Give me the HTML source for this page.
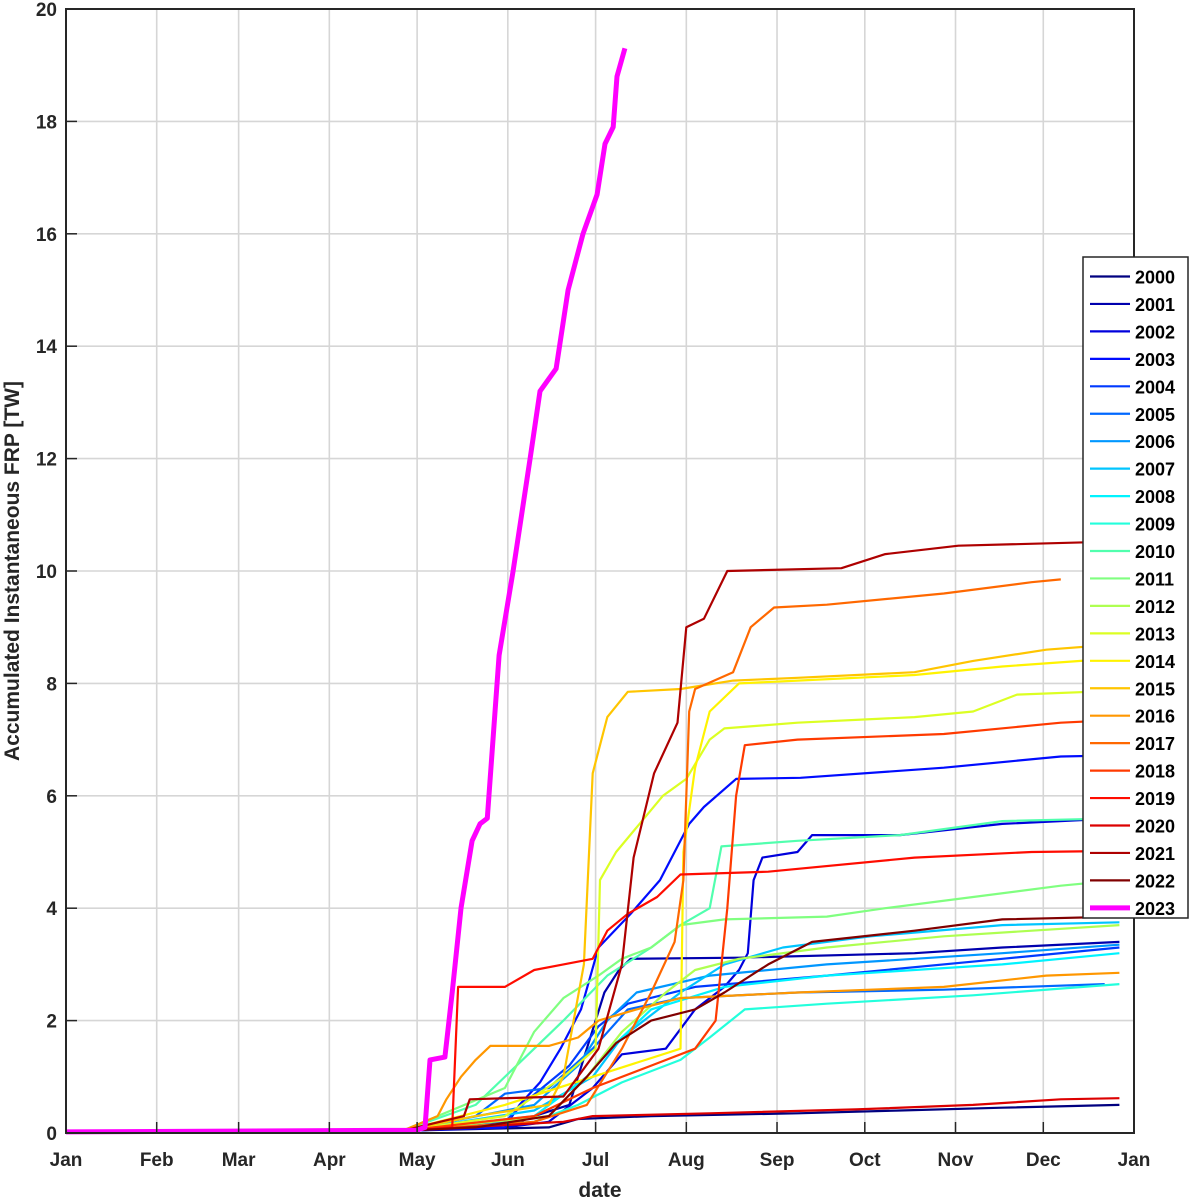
<!DOCTYPE html>
<html><head><meta charset="utf-8">
<style>
html,body{margin:0;padding:0;background:#fff;}
svg{display:block;font-family:"Liberation Sans",Arial,sans-serif;}
</style></head>
<body>
<svg id="chart" width="1192" height="1200" viewBox="0 0 1192 1200" xmlns="http://www.w3.org/2000/svg">
<rect x="0" y="0" width="1192" height="1200" fill="#fff"/>
<g id="grid"></g>
<g id="series"></g>
<g id="axes"></g>
<text x="0" y="0" transform="translate(19,571) rotate(-90)" text-anchor="middle" font-size="21" font-weight="bold" fill="#262626">Accumulated Instantaneous FRP [TW]</text>
<text x="600" y="1197" text-anchor="middle" font-size="21" font-weight="bold" fill="#262626">date</text>
<g id="legend"></g>
</svg>
<script>
const monthLabels = ["Jan","Feb","Mar","Apr","May","Jun","Jul","Aug","Sep","Oct","Nov","Dec","Jan"];
const monthDays = [0,31,59,90,120,151,181,212,243,273,304,334,365];
const yTicks = [0,2,4,6,8,10,12,14,16,18,20];
const years = [2000,2001,2002,2003,2004,2005,2006,2007,2008,2009,2010,2011,2012,2013,2014,2015,2016,2017,2018,2019,2020,2021,2022,2023];

const d2000 = [0,115,165,175,200,250,285,320,360];
const v2000 = [0.02,0.04,0.1,0.25,0.3,0.35,0.4,0.45,0.5];
const d2001 = [0,115,150,160,172,178,184,189,193,230,290,320,360];
const v2001 = [0.02,0.04,0.1,0.3,0.5,1.5,2.5,2.9,3.1,3.12,3.2,3.3,3.4];
const d2002 = [0,115,150,165,180,190,205,215,225,230,233,235,238,250,255,285,320,360];
const v2002 = [0.02,0.04,0.1,0.2,0.8,1.4,1.5,2.2,2.6,2.9,3.2,4.5,4.9,5.0,5.3,5.3,5.5,5.6];
const d2003 = [0,115,150,155,162,169,176,182,193,203,213,218,229,251,300,340,360];
const v2003 = [0.02,0.04,0.1,0.5,0.9,1.5,2.2,3.3,3.9,4.5,5.5,5.8,6.3,6.32,6.5,6.7,6.72];
const d2004 = [0,115,150,158,172,182,192,215,260,320,360];
const v2004 = [0.02,0.04,0.2,0.6,1.2,1.9,2.3,2.6,2.8,3.1,3.3];
const d2005 = [0,115,140,150,165,180,192,210,250,300,355];
const v2005 = [0.02,0.04,0.3,0.7,0.8,1.5,2.2,2.4,2.5,2.55,2.65];
const d2006 = [0,115,160,175,185,195,220,260,320,360];
const v2006 = [0.02,0.04,0.5,1.2,2.0,2.5,2.8,3.0,3.2,3.35];
const d2007 = [0,115,160,180,190,210,225,245,275,320,360];
const v2007 = [0.02,0.04,0.4,1.0,1.7,2.5,3.0,3.3,3.5,3.7,3.75];
const d2008 = [0,115,160,178,188,200,225,260,320,360];
const v2008 = [0.02,0.04,0.3,1.0,1.6,2.2,2.6,2.8,3.0,3.2];
const d2009 = [0,115,160,175,190,210,220,232,260,310,360];
const v2009 = [0.02,0.04,0.2,0.5,0.9,1.3,1.7,2.2,2.3,2.45,2.65];
const d2010 = [0,115,140,160,170,185,200,210,220,224,250,285,320,360];
const v2010 = [0.02,0.04,0.5,1.5,2.0,2.8,3.3,3.7,4.0,5.1,5.2,5.3,5.55,5.6];
const d2011 = [0,115,150,160,170,182,190,200,210,225,260,280,310,340,360];
const v2011 = [0.02,0.04,0.8,1.8,2.4,2.8,3.1,3.3,3.7,3.8,3.85,4.0,4.2,4.4,4.5];
const d2012 = [0,115,165,178,190,205,215,230,260,300,360];
const v2012 = [0.02,0.04,0.3,1.0,1.8,2.5,2.9,3.1,3.3,3.5,3.7];
const d2013 = [0,115,150,170,181,182.5,188,196,204,212,220,225,250,290,310,325,360];
const v2013 = [0.02,0.04,0.3,1.0,1.5,4.5,5.0,5.5,6.0,6.3,7.0,7.2,7.3,7.4,7.5,7.8,7.87];
const d2014 = [0,115,150,180,210,211,215,220,230,250,290,320,360];
const v2014 = [0.02,0.04,0.5,1.0,1.5,5.0,6.5,7.5,8.0,8.05,8.15,8.3,8.45];
const d2015 = [0,115,140,165,170,177,180,185,192,210,228,250,290,310,335,360];
const v2015 = [0.02,0.04,0.3,0.5,1.0,3.0,6.4,7.4,7.85,7.9,8.05,8.1,8.2,8.4,8.6,8.7];
const d2016 = [0,115,127,130,135,140,145,165,175,182,195,210,250,300,335,360];
const v2016 = [0.02,0.04,0.3,0.6,1.0,1.3,1.55,1.55,1.7,2.0,2.2,2.4,2.5,2.6,2.8,2.85];
const d2017 = [0,115,160,178,190,200,208,211,213,215,228,234,242,260,300,330,340];
const v2017 = [0.02,0.04,0.2,0.5,1.5,2.5,3.4,4.5,7.5,7.9,8.2,9.0,9.35,9.4,9.6,9.8,9.85];
const d2018 = [0,115,160,180,200,215,222,226,229,232,250,300,340,360];
const v2018 = [0.02,0.04,0.3,0.8,1.2,1.5,2.0,4.0,6.0,6.9,7.0,7.1,7.3,7.35];
const d2019 = [0,115,132,134,150,160,170,180,185,192,202,210,240,290,330,360];
const v2019 = [0.02,0.04,0.1,2.6,2.6,2.9,3.0,3.1,3.6,3.9,4.2,4.6,4.65,4.9,5.0,5.02];
const d2020 = [0,115,170,180,220,270,310,340,360];
const v2020 = [0.02,0.04,0.2,0.3,0.35,0.42,0.5,0.6,0.62];
const d2021 = [0,115,136,138,170,182,190,194,201,209,212,218,226,265,280,305,355];
const v2021 = [0.02,0.04,0.3,0.6,0.65,1.5,3.0,4.9,6.4,7.3,9.0,9.15,10.0,10.05,10.3,10.45,10.52];
const d2022 = [0,115,140,165,178,188,200,215,225,240,255,290,320,360];
const v2022 = [0.02,0.04,0.1,0.3,1.0,1.6,2.0,2.2,2.5,3.0,3.4,3.6,3.8,3.85];
const d2023 = [0,120,122.7,124.4,129.5,132,135,138.8,141.5,144,148,152.8,158.6,162,167.5,171.6,176.7,181.5,184.2,187,188.3,191];
const v2023 = [0.02,0.05,0.1,1.3,1.35,2.5,4.0,5.2,5.5,5.6,8.5,10,12,13.2,13.6,15,16,16.7,17.6,17.9,18.8,19.3];

const seriesDays = [d2000,d2001,d2002,d2003,d2004,d2005,d2006,d2007,d2008,d2009,d2010,d2011,d2012,d2013,d2014,d2015,d2016,d2017,d2018,d2019,d2020,d2021,d2022,d2023];
const seriesVals = [v2000,v2001,v2002,v2003,v2004,v2005,v2006,v2007,v2008,v2009,v2010,v2011,v2012,v2013,v2014,v2015,v2016,v2017,v2018,v2019,v2020,v2021,v2022,v2023];

const NS = "http://www.w3.org/2000/svg";
const L = 66, R = 1134, T = 9, B = 1133;
function xs(d){ return L + d/365*(R-L); }
function ys(v){ return B - v/20*(B-T); }
function jet(i,n){
  const t = i/(n-1);
  const c = x => Math.round(255*Math.max(0,Math.min(1,x)));
  return `rgb(${c(1.5-Math.abs(4*t-3))},${c(1.5-Math.abs(4*t-2))},${c(1.5-Math.abs(4*t-1))})`;
}
function mk(tag, attrs, parent){
  const e = document.createElementNS(NS, tag);
  for (const k in attrs) e.setAttribute(k, attrs[k]);
  parent.appendChild(e); return e;
}
const grid = document.getElementById('grid');
const axes = document.getElementById('axes');
const ser = document.getElementById('series');
const leg = document.getElementById('legend');

monthDays.forEach((d,i)=>{
  const x = xs(d);
  const g = mk('line',{x1:x,x2:x,y1:T,y2:B,stroke:'#d6d6d6','stroke-width':1.6},grid);
  
  
  const tk = mk('line',{x1:x,x2:x,y1:B,y2:B-11,stroke:'#262626','stroke-width':1.5},axes);
  
  
  const tx = mk('text',{x:x,y:B+33,'text-anchor':'middle','font-size':19,'font-weight':'bold',fill:'#262626'},axes);
  tx.textContent = monthLabels[i];
  
  
});
yTicks.forEach(v=>{
  const y = ys(v);
  const g = mk('line',{x1:L,x2:R,y1:y,y2:y,stroke:'#d6d6d6','stroke-width':1.6},grid);
  
  
  const tk = mk('line',{x1:L,x2:L+11,y1:y,y2:y,stroke:'#262626','stroke-width':1.5},axes);
  
  
  const tx = mk('text',{x:L-9,y:y+7,'text-anchor':'end','font-size':19,'font-weight':'bold',fill:'#262626'},axes);
  tx.textContent = String(v);
  
  
});
const frame = mk('rect',{x:L,y:T,width:R-L,height:B-T,fill:'none',stroke:'#262626','stroke-width':2},axes);



const n = years.length - 1;
function colorOf(i){ return i===n ? '#ff00ff' : jet(i,n); }
years.forEach((yr,i)=>{
  const ds = seriesDays[i], vs = seriesVals[i];
  const pts = ds.map((d,j)=>xs(d).toFixed(1)+','+ys(vs[j]).toFixed(1)).join(' ');
  const p = mk('polyline',{points:pts,fill:'none',stroke:colorOf(i),'stroke-width':i===n?5:2.2,'stroke-linejoin':'round'},ser);
  
  
});

const lb = mk('rect',{x:1083,y:257,width:105,height:661,fill:'#fff',stroke:'#262626','stroke-width':1.5},leg);


years.forEach((yr,i)=>{
  const y = 276.5 + i*27.45;
  const ln = mk('line',{x1:1090,x2:1130,y1:y,y2:y,stroke:colorOf(i),'stroke-width':i===n?5:2.2},leg);
  
  
  const t = mk('text',{x:1135,y:y+7,'font-size':18,'font-weight':'bold',fill:'#000'},leg);
  t.textContent = String(yr);
  
  
});
</script>
</body></html>
